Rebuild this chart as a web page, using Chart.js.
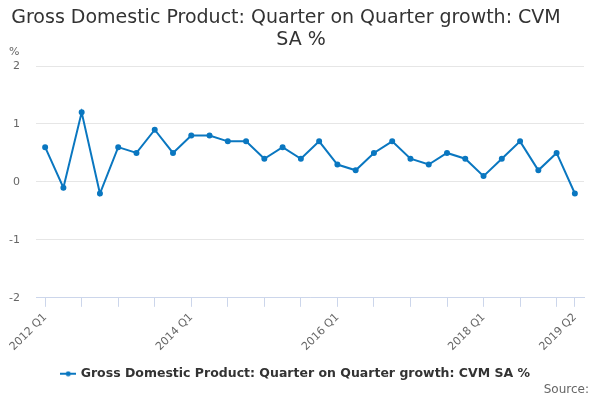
<!DOCTYPE html>
<html>
<head>
<meta charset="utf-8">
<script src="https://cdn.jsdelivr.net/npm/chart.js@4/dist/chart.umd.min.js"></script>
<style>
  html, body { margin: 0; padding: 0; background: #fff; }
  #wrap { width: 600px; height: 400px; }
</style>
</head>
<body>
<div id="wrap"><canvas id="gdpChart"></canvas></div>
<script>
// quarters 2012 Q1 .. 2019 Q2
const quarters = [
  "2012 Q1", "2012 Q2", "2012 Q3", "2012 Q4",
  "2013 Q1", "2013 Q2", "2013 Q3", "2013 Q4",
  "2014 Q1", "2014 Q2", "2014 Q3", "2014 Q4",
  "2015 Q1", "2015 Q2", "2015 Q3", "2015 Q4",
  "2016 Q1", "2016 Q2", "2016 Q3", "2016 Q4",
  "2017 Q1", "2017 Q2", "2017 Q3", "2017 Q4",
  "2018 Q1", "2018 Q2", "2018 Q3", "2018 Q4",
  "2019 Q1", "2019 Q2"
];
const growth = [
  0.6, -0.1, 1.2, -0.2,
  0.6, 0.5, 0.9, 0.5,
  0.8, 0.8, 0.7, 0.7,
  0.4, 0.6, 0.4, 0.7,
  0.3, 0.2, 0.5, 0.7,
  0.4, 0.3, 0.5, 0.4,
  0.1, 0.4, 0.7, 0.2,
  0.5, -0.2
];
const seriesName = "Gross Domestic Product: Quarter on Quarter growth: CVM SA %";
const titleLines = ["Gross Domestic Product: Quarter on Quarter growth: CVM", "SA %"];

const lineColor = "#0a77c0";
const fontFam = "'DejaVu Sans', sans-serif";
const lastIdx = quarters.length - 1;

// legend symbol: short line with a dot in the middle
const legendMark = document.createElement("canvas");
legendMark.width = 16;
legendMark.height = 6;
(function () {
  const c = legendMark.getContext("2d");
  c.fillStyle = lineColor;
  c.fillRect(0, 2, 16, 2);
  c.beginPath();
  c.arc(8, 3, 2.5, 0, Math.PI * 2);
  c.fill();
})();

// title (wrapped the way the original wraps it), "%" unit and "Source:" note
const extraText = {
  id: "extraText",
  afterDraw(chart) {
    const ctx = chart.ctx;
    const y = chart.scales.y;
    ctx.save();
    ctx.textBaseline = "middle";

    ctx.fillStyle = "#333";
    ctx.font = "19px " + fontFam;
    ctx.textAlign = "center";
    ctx.fillText(titleLines[0], 286, 18);
    ctx.fillText(titleLines[1], 301, 40);

    ctx.fillStyle = "#666";
    ctx.font = "11px " + fontFam;
    ctx.textAlign = "left";
    ctx.fillText("%", 9, y.top - 14);

    ctx.font = "12px " + fontFam;
    ctx.textAlign = "right";
    ctx.fillText("Source:", 589, 390);
    ctx.restore();
  }
};

new Chart(document.getElementById("gdpChart"), {
  type: "line",
  data: {
    labels: quarters,
    datasets: [{
      label: seriesName,
      data: growth,
      borderColor: lineColor,
      backgroundColor: lineColor,
      borderWidth: 2,
      pointRadius: 2,
      pointHoverRadius: 3,
      fill: false,
      tension: 0
    }]
  },
  options: {
    responsive: true,
    maintainAspectRatio: false,
    animation: false,
    layout: {
      padding: { left: 8, right: 16, top: 66, bottom: 10 }
    },
    plugins: {
      title: { display: false },
      legend: {
        position: "bottom",
        labels: {
          color: "#333",
          font: { family: fontFam, size: 12.5, weight: "bold" },
          usePointStyle: true,
          pointStyle: legendMark,
          padding: 10
        }
      },
      tooltip: { enabled: false }
    },
    scales: {
      x: {
        offset: true,
        afterFit(scale) {
          scale.paddingLeft = 0;
          scale.paddingRight = 0;
        },
        grid: {
          offset: false,
          drawOnChartArea: false,
          tickLength: 9,
          color: ctx => (ctx.index % 2 === 0 || ctx.index === lastIdx) ? "#ccd6eb" : "rgba(0,0,0,0)"
        },
        border: { color: "#ccd6eb" },
        ticks: {
          autoSkip: false,
          maxRotation: 45,
          minRotation: 45,
          padding: 4,
          color: "#666",
          font: { family: fontFam, size: 11 },
          callback: function (val, i) {
            return (i % 8 === 0 || i === lastIdx) ? quarters[i] : "";
          }
        }
      },
      y: {
        min: -2,
        max: 2,
        afterFit(scale) {
          scale.width = 28;
        },
        ticks: {
          stepSize: 1,
          color: "#666",
          font: { family: fontFam, size: 11 },
          padding: 16
        },
        grid: { color: "#e6e6e6", drawTicks: false },
        border: { display: false }
      }
    }
  },
  plugins: [extraText]
});
</script>
</body>
</html>
